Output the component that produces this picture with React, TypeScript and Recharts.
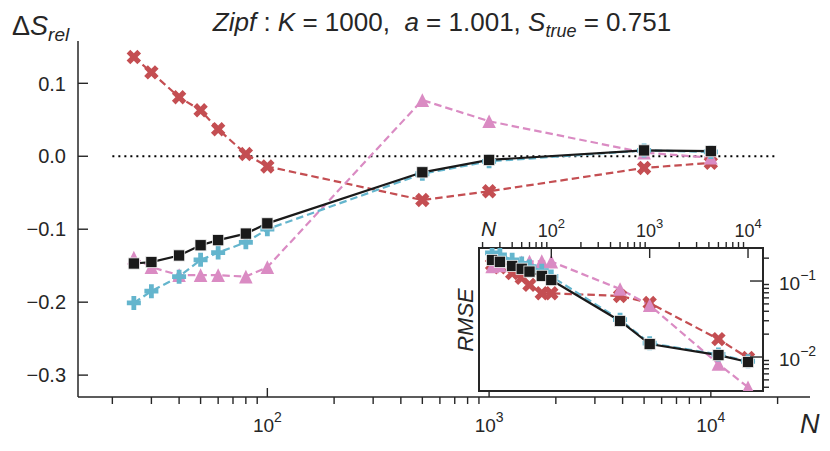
import React from 'react'
import { ComposedChart, Line, XAxis, YAxis, ReferenceLine } from 'recharts'

// sample sizes N (shared by both panels)
const sampleN = [25, 30, 40, 50, 60, 80, 100, 500, 1000, 5000, 10000]

// main panel: relative bias of the entropy estimate
const biasRed = [0.136, 0.115, 0.081, 0.063, 0.037, 0.003, -0.014, -0.06, -0.048, -0.016, -0.009]
const biasPink = [-0.139, -0.152, -0.163, -0.163, -0.163, -0.165, -0.152, 0.077, 0.048, 0.005, -0.002]
const biasCyan = [-0.201, -0.185, -0.165, -0.142, -0.132, -0.118, -0.1, -0.024, -0.007, 0.008, 0.006]
const biasBlack = [-0.147, -0.145, -0.136, -0.122, -0.115, -0.106, -0.092, -0.022, -0.005, 0.008, 0.007]

// inset: RMSE
const rmseRed = [0.165, 0.152, 0.127, 0.11, 0.089, 0.069, 0.069, 0.0636, 0.0513, 0.0172, 0.0097]
const rmsePink = [0.155, 0.16, 0.17, 0.176, 0.18, 0.183, 0.18, 0.0785, 0.048, 0.0081, 0.004]
const rmseCyan = [0.235, 0.22, 0.19, 0.17, 0.155, 0.137, 0.115, 0.031, 0.0152, 0.0108, 0.0088]
const rmseBlack = [0.189, 0.179, 0.158, 0.145, 0.133, 0.117, 0.103, 0.0298, 0.0148, 0.0106, 0.0086]

const mainXMajor = [100, 1000, 10000]
const mainXTicks = [20, 30, 40, 50, 60, 70, 80, 90, 100, 200, 300, 400, 500, 600, 700, 800, 900,
  1000, 2000, 3000, 4000, 5000, 6000, 7000, 8000, 9000, 10000, 20000]
const mainYTicks = [-0.3, -0.2, -0.1, 0, 0.1]

const insetXMajor = [100, 1000, 10000]
const insetXTicks = [20, 30, 40, 50, 60, 70, 80, 90, 100, 200, 300, 400, 500, 600, 700, 800, 900,
  1000, 2000, 3000, 4000, 5000, 6000, 7000, 8000, 9000, 10000]
const insetYMajor = [0.01, 0.1]
const insetYTicks = [0.004, 0.005, 0.006, 0.007, 0.008, 0.009, 0.01, 0.02, 0.03, 0.04, 0.05,
  0.06, 0.07, 0.08, 0.09, 0.1, 0.2]

const INK = '#262626'
const RED = '#c44e52'
const PINK = '#da8bc3'
const CYAN = '#64b5cd'
const BLACK = '#1a1a1a'
const FONT = '"Liberation Sans", Arial, sans-serif'

const mainRows = sampleN.map((n, i) => ({
  n, red: biasRed[i], pink: biasPink[i], cyan: biasCyan[i], black: biasBlack[i],
}))
const insetRows = sampleN.map((n, i) => ({
  n, red: rmseRed[i], pink: rmsePink[i], cyan: rmseCyan[i], black: rmseBlack[i],
}))

const fmtMinus = (s: string) => s.replace('-', '\u2212')
const expOf = (v: number) => fmtMinus(String(Math.round(Math.log10(v))))

// ---- markers ----
function crossPath(cx: number, cy: number, r: number, w: number) {
  const pts = [[w, r], [w, w], [r, w], [r, -w], [w, -w], [w, -r], [-w, -r], [-w, -w], [-r, -w], [-r, w], [-w, w], [-w, r]]
  return pts.map(([a, b], i) => `${i ? 'L' : 'M'}${cx + a},${cy + b}`).join('') + 'Z'
}

function XMark({ cx, cy }: any) {
  return <path d={crossPath(cx, cy, 7.6, 2.6)} fill={RED} transform={`rotate(45 ${cx} ${cy})`} />
}

function PlusMark({ cx, cy }: any) {
  return <path d={crossPath(cx, cy, 7, 2.4)} fill={CYAN} />
}

function TriMark({ cx, cy }: any) {
  const r = 6.8
  return <path d={`M${cx},${cy - r}L${cx + r},${cy + r}L${cx - r},${cy + r}Z`} fill={PINK} />
}

function SqMark({ cx, cy }: any) {
  const h = 5.6
  return <rect x={cx - h} y={cy - h} width={2 * h} height={2 * h} fill={BLACK} stroke="#f2f2f2" strokeWidth={0.8} />
}

// ---- ticks ----
function MainXTick({ x, y, payload }: any) {
  const v = payload.value
  if (!mainXMajor.includes(v)) {
    return <line x1={x} x2={x} y1={y} y2={y + 7} stroke={INK} strokeWidth={1.4} />
  }
  return (
    <g>
      <line x1={x} x2={x} y1={y} y2={y - 9} stroke={INK} strokeWidth={1.4} />
      <text x={x} y={y + 35} textAnchor="middle" fontSize={19} fontFamily={FONT} fill={INK}>
        10<tspan dy={-10} fontSize={14}>{expOf(v)}</tspan>
      </text>
    </g>
  )
}

function MainYTick({ x, y, payload }: any) {
  return (
    <g>
      <line x1={x} x2={x + 10} y1={y} y2={y} stroke={INK} strokeWidth={1.4} />
      <text x={x - 12} y={y} dy="0.36em" textAnchor="end" fontSize={20} fontFamily={FONT} fill={INK}>
        {fmtMinus(payload.value.toFixed(1))}
      </text>
    </g>
  )
}

function InsetXTick({ x, y, payload }: any) {
  const v = payload.value
  if (!insetXMajor.includes(v)) {
    return <line x1={x} x2={x} y1={y} y2={y - 6} stroke={INK} strokeWidth={1.4} />
  }
  return (
    <g>
      <line x1={x} x2={x} y1={y} y2={y + 10} stroke={INK} strokeWidth={1.4} />
      <text x={x} y={y - 11} textAnchor="middle" fontSize={18} fontFamily={FONT} fill={INK}>
        10<tspan dy={-9} fontSize={13}>{expOf(v)}</tspan>
      </text>
    </g>
  )
}

function InsetYTick({ x, y, payload }: any) {
  const v = payload.value
  if (!insetYMajor.includes(v)) {
    return <line x1={x} x2={x + 6} y1={y} y2={y} stroke={INK} strokeWidth={1.4} />
  }
  return (
    <g>
      <line x1={x} x2={x - 13} y1={y} y2={y} stroke={INK} strokeWidth={1.4} />
      <text x={x + 16} y={y + 9} textAnchor="start" fontSize={19} fontFamily={FONT} fill={INK}>
        10<tspan dy={-10} fontSize={14}>{expOf(v)}</tspan>
      </text>
    </g>
  )
}

const dash = '7.5 4'

function seriesLines() {
  return [
    <Line key="red" dataKey="red" stroke={RED} strokeWidth={2.2} strokeDasharray={dash}
      isAnimationActive={false} activeDot={false}
      dot={(p: any) => <XMark key={'r' + p.index} cx={p.cx} cy={p.cy} />} />,
    <Line key="pink" dataKey="pink" stroke={PINK} strokeWidth={2.2} strokeDasharray={dash}
      isAnimationActive={false} activeDot={false}
      dot={(p: any) => <TriMark key={'p' + p.index} cx={p.cx} cy={p.cy} />} />,
    <Line key="cyan" dataKey="cyan" stroke={CYAN} strokeWidth={2.2} strokeDasharray={dash}
      isAnimationActive={false} activeDot={false}
      dot={(p: any) => <PlusMark key={'c' + p.index} cx={p.cx} cy={p.cy} />} />,
    <Line key="black" dataKey="black" stroke={BLACK} strokeWidth={2.2}
      isAnimationActive={false} activeDot={false}
      dot={(p: any) => <SqMark key={'b' + p.index} cx={p.cx} cy={p.cy} />} />,
  ]
}

export default function App() {
  const nb = '\u00a0'
  return (
    <div style={{ position: 'absolute', left: 0, top: 0, width: 830, height: 451, background: '#fff', fontFamily: FONT }}>
      <div style={{ position: 'absolute', left: 0, top: 0 }}>
        <ComposedChart width={830} height={451} data={mainRows} margin={{ top: 41, right: 20, bottom: 24, left: 18 }}>
          <XAxis dataKey="n" type="number" scale="log" domain={[14, 28000]} allowDataOverflow
            ticks={mainXTicks} interval={0} height={30} tickSize={0} tickMargin={0}
            tickLine={false} axisLine={{ stroke: INK, strokeWidth: 1.5 }}
            tick={(p: any) => <MainXTick {...p} />} />
          <YAxis type="number" domain={[-0.33, 0.158]} allowDataOverflow
            ticks={mainYTicks} interval={0} width={60} tickSize={0} tickMargin={0}
            tickLine={false} axisLine={{ stroke: INK, strokeWidth: 1.5 }}
            tick={(p: any) => <MainYTick {...p} />} />
          <ReferenceLine segment={[{ x: 20, y: 0 }, { x: 20000, y: 0 }]} stroke="#000"
            strokeWidth={2} strokeDasharray="2 4" />
          {seriesLines()}
        </ComposedChart>
      </div>

      <div style={{ position: 'absolute', left: 440, top: 200, width: 390, height: 210 }}>
        <div style={{
          position: 'absolute', left: 38, top: 47, width: 286, height: 145,
          boxSizing: 'border-box', border: `2px solid ${INK}`, background: '#fff',
        }} />
        <div style={{ position: 'absolute', left: 0, top: 0 }}>
          <ComposedChart width={390} height={210} data={insetRows} margin={{ top: 18, right: 17, bottom: 19, left: 39 }}>
            <XAxis dataKey="n" type="number" scale="log" domain={[18.4, 14200]} allowDataOverflow
              orientation="top" ticks={insetXTicks} interval={0} height={30} tickSize={0} tickMargin={0}
              tickLine={false} axisLine={false}
              tick={(p: any) => <InsetXTick {...p} />} />
            <YAxis type="number" scale="log" domain={[0.00357, 0.272]} allowDataOverflow
              orientation="right" ticks={insetYTicks} interval={0} width={50} tickSize={0} tickMargin={0}
              tickLine={false} axisLine={false}
              tick={(p: any) => <InsetYTick {...p} />} />
            {seriesLines()}
          </ComposedChart>
        </div>
      </div>

      <svg width={830} height={451} style={{ position: 'absolute', left: 0, top: 0, pointerEvents: 'none' }}>
        <text x={442} y={31} textAnchor="middle" fontSize={26} fill={INK} fontFamily={FONT}>
          <tspan fontStyle="italic">Zipf</tspan>
          <tspan>{nb}:{nb}</tspan>
          <tspan fontStyle="italic">K</tspan>
          <tspan>{nb}={nb}1000,{nb}{nb}</tspan>
          <tspan fontStyle="italic">a</tspan>
          <tspan>{nb}={nb}1.001,{nb}</tspan>
          <tspan fontStyle="italic">S</tspan>
          <tspan fontStyle="italic" fontSize={18} dy={6}>true</tspan>
          <tspan dy={-6}>{nb}={nb}0.751</tspan>
        </text>
        <text x={12} y={35} fontSize={27} fill={INK} fontFamily={FONT}>
          Δ<tspan fontStyle="italic">S</tspan>
          <tspan fontStyle="italic" fontSize={19} dy={6}>rel</tspan>
        </text>
        <text x={800} y={433} fontSize={27} fontStyle="italic" fill={INK} fontFamily={FONT}>N</text>
        <text x={481} y={236} fontSize={21} fontStyle="italic" fill={INK} fontFamily={FONT}>N</text>
        <text x={473} y={320} fontSize={22} fontStyle="italic" fill={INK} fontFamily={FONT}
          textAnchor="middle" transform="rotate(-90 473 320)">RMSE</text>
      </svg>
    </div>
  )
}
